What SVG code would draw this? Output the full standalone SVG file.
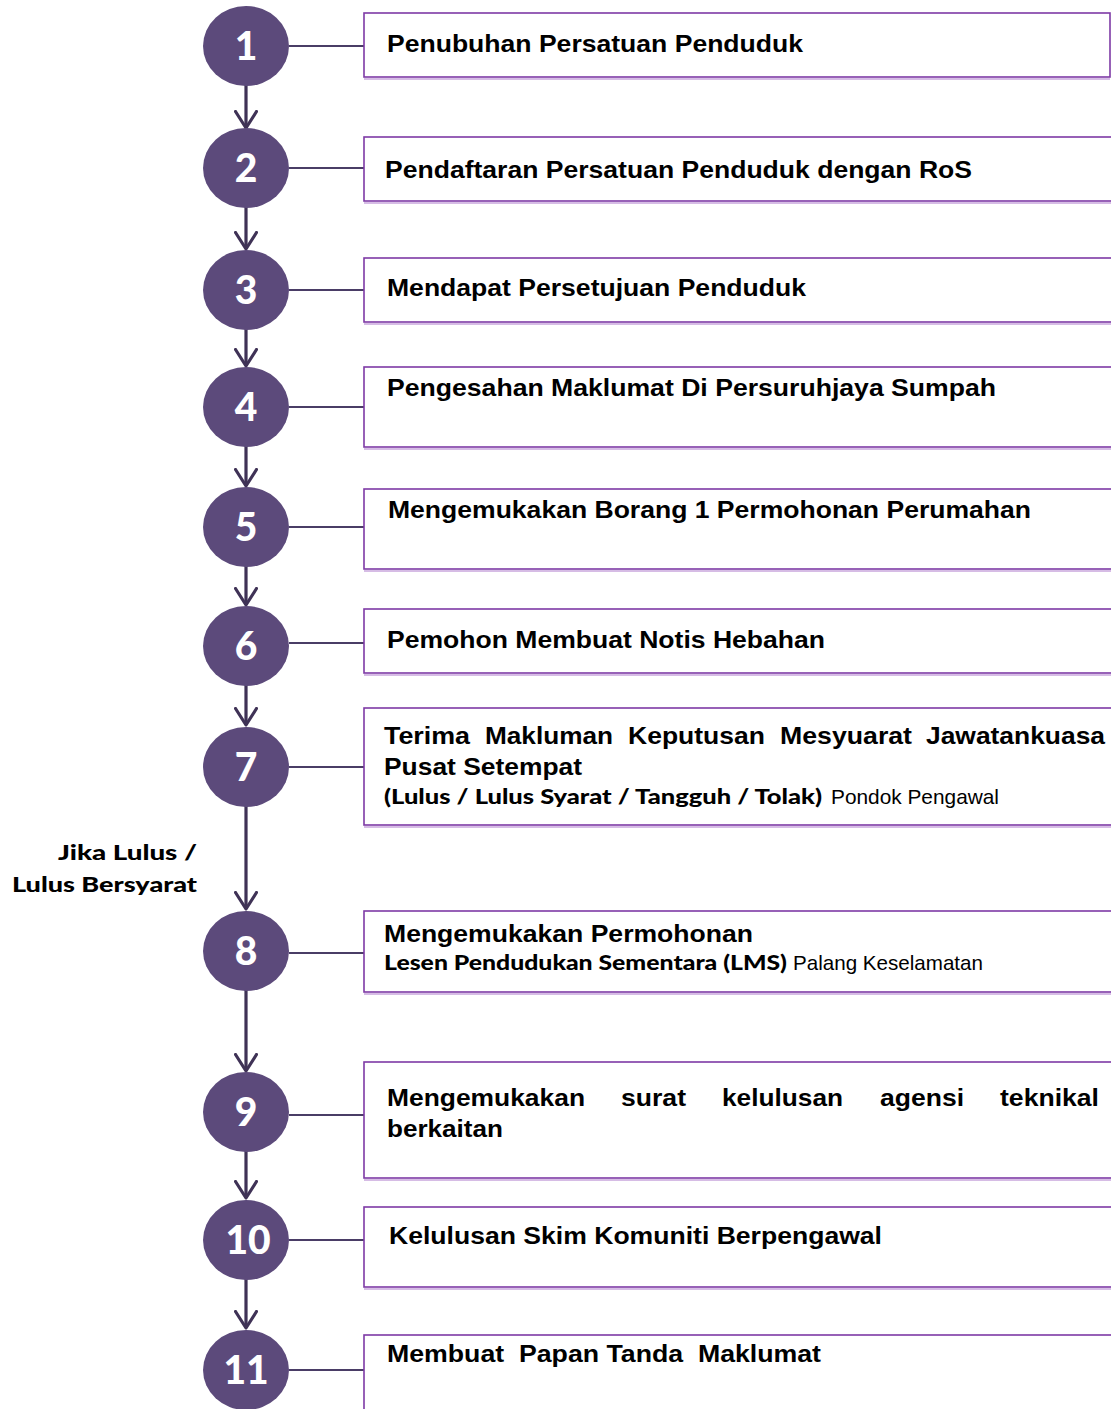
<svg xmlns="http://www.w3.org/2000/svg" width="1111" height="1409" viewBox="0 0 1111 1409">
<defs>
<marker id="ah" viewBox="0 0 20 24" refX="18" refY="12" markerWidth="20" markerHeight="24" markerUnits="userSpaceOnUse" orient="auto">
<path d="M1.5,1.5 L18,12 L1.5,22.5" fill="none" stroke="#3f3256" stroke-width="3.2" stroke-linecap="round" stroke-linejoin="round"/>
</marker>
</defs>
<style>
.c{fill:#5c4a7b}
.n{font-family:Lato,"Open Sans",sans-serif;font-weight:900;font-size:39px;fill:#fff;text-anchor:middle}
.b{fill:#fff;stroke:#7e3aa6;stroke-width:1.6}
.s{fill:none;stroke:#c8a6dc;stroke-width:1.5}
.t{font-family:"Liberation Sans",Arial,sans-serif;font-weight:700;font-size:24px;fill:#000}
.f{font-family:Lato,"Open Sans",sans-serif;font-weight:900;font-size:21px;fill:#000}
.w{font-family:"Liberation Sans",Arial,sans-serif;font-weight:400;font-size:21px;fill:#000}
.h{stroke:#4a3d66;stroke-width:2;fill:none}
.v{stroke:#3f3256;stroke-width:3.2;fill:none}
</style>
<rect width="1111" height="1409" fill="#fff"/>
<g id="connectors">
<line class="h" x1="289" y1="46" x2="364" y2="46"/>
<line class="h" x1="289" y1="168" x2="364" y2="168"/>
<line class="h" x1="289" y1="290" x2="364" y2="290"/>
<line class="h" x1="289" y1="407" x2="364" y2="407"/>
<line class="h" x1="289" y1="527" x2="364" y2="527"/>
<line class="h" x1="289" y1="643" x2="364" y2="643"/>
<line class="h" x1="289" y1="767" x2="364" y2="767"/>
<line class="h" x1="289" y1="953" x2="364" y2="953"/>
<line class="h" x1="289" y1="1115" x2="364" y2="1115"/>
<line class="h" x1="289" y1="1240" x2="364" y2="1240"/>
<line class="h" x1="289" y1="1370" x2="364" y2="1370"/>
<line class="v" x1="246" y1="85" x2="246" y2="128" marker-end="url(#ah)"/>
<line class="v" x1="246" y1="207" x2="246" y2="249" marker-end="url(#ah)"/>
<line class="v" x1="246" y1="329" x2="246" y2="366" marker-end="url(#ah)"/>
<line class="v" x1="246" y1="446" x2="246" y2="486" marker-end="url(#ah)"/>
<line class="v" x1="246" y1="566" x2="246" y2="605" marker-end="url(#ah)"/>
<line class="v" x1="246" y1="685" x2="246" y2="725" marker-end="url(#ah)"/>
<line class="v" x1="246" y1="806" x2="246" y2="909" marker-end="url(#ah)"/>
<line class="v" x1="246" y1="990" x2="246" y2="1071" marker-end="url(#ah)"/>
<line class="v" x1="246" y1="1151" x2="246" y2="1198" marker-end="url(#ah)"/>
<line class="v" x1="246" y1="1279" x2="246" y2="1328" marker-end="url(#ah)"/>
</g>
<g id="label-jika">
<text class="f" x="197" y="860" text-anchor="end" textLength="139" lengthAdjust="spacingAndGlyphs">Jika Lulus /</text>
<text class="f" x="197" y="892" text-anchor="end" textLength="185" lengthAdjust="spacingAndGlyphs">Lulus Bersyarat</text>
</g>
<g id="node1">
<ellipse class="c" cx="246" cy="46" rx="43" ry="40"/>
<text class="n" x="246" y="60">1</text>
<rect class="b" x="364" y="13" width="746" height="64"/>
<path class="s" d="M364,79 H1110"/>
<text class="t" x="387" y="52" textLength="416" lengthAdjust="spacingAndGlyphs">Penubuhan Persatuan Penduduk</text>
</g>
<g id="node2">
<ellipse class="c" cx="246" cy="168" rx="43" ry="40"/>
<text class="n" x="246" y="182">2</text>
<rect class="b" x="364" y="137" width="760" height="64"/>
<path class="s" d="M364,203 H1111"/>
<text class="t" x="385" y="178" textLength="587" lengthAdjust="spacingAndGlyphs">Pendaftaran Persatuan Penduduk dengan RoS</text>
</g>
<g id="node3">
<ellipse class="c" cx="246" cy="290" rx="43" ry="40"/>
<text class="n" x="246" y="304">3</text>
<rect class="b" x="364" y="258" width="760" height="64"/>
<path class="s" d="M364,324 H1111"/>
<text class="t" x="387" y="296" textLength="419" lengthAdjust="spacingAndGlyphs">Mendapat Persetujuan Penduduk</text>
</g>
<g id="node4">
<ellipse class="c" cx="246" cy="407" rx="43" ry="40"/>
<text class="n" x="246" y="421">4</text>
<rect class="b" x="364" y="367" width="760" height="80"/>
<path class="s" d="M364,449 H1111"/>
<text class="t" x="387" y="396" textLength="609" lengthAdjust="spacingAndGlyphs">Pengesahan Maklumat Di Persuruhjaya Sumpah</text>
</g>
<g id="node5">
<ellipse class="c" cx="246" cy="527" rx="43" ry="40"/>
<text class="n" x="246" y="541">5</text>
<rect class="b" x="364" y="489" width="760" height="80"/>
<path class="s" d="M364,571 H1111"/>
<text class="t" x="388" y="518" textLength="643" lengthAdjust="spacingAndGlyphs">Mengemukakan Borang 1 Permohonan Perumahan</text>
</g>
<g id="node6">
<ellipse class="c" cx="246" cy="646" rx="43" ry="40"/>
<text class="n" x="246" y="660">6</text>
<rect class="b" x="364" y="609" width="760" height="64"/>
<path class="s" d="M364,675 H1111"/>
<text class="t" x="387" y="648" textLength="438" lengthAdjust="spacingAndGlyphs">Pemohon Membuat Notis Hebahan</text>
</g>
<g id="node7">
<ellipse class="c" cx="246" cy="767" rx="43" ry="40"/>
<text class="n" x="246" y="781">7</text>
<rect class="b" x="364" y="708" width="760" height="117"/>
<path class="s" d="M364,827 H1111"/>
<text class="t" x="384" y="744" textLength="86" lengthAdjust="spacingAndGlyphs">Terima</text>
<text class="t" x="485" y="744" textLength="128" lengthAdjust="spacingAndGlyphs">Makluman</text>
<text class="t" x="628" y="744" textLength="137" lengthAdjust="spacingAndGlyphs">Keputusan</text>
<text class="t" x="780" y="744" textLength="132" lengthAdjust="spacingAndGlyphs">Mesyuarat</text>
<text class="t" x="926" y="744" textLength="179" lengthAdjust="spacingAndGlyphs">Jawatankuasa</text>
<text class="t" x="384" y="775" textLength="198" lengthAdjust="spacingAndGlyphs">Pusat Setempat</text>
<text class="f" x="384" y="804" textLength="438" lengthAdjust="spacingAndGlyphs">(Lulus / Lulus Syarat / Tangguh / Tolak)</text>
<text class="w" x="831" y="804" textLength="168" lengthAdjust="spacingAndGlyphs">Pondok Pengawal</text>
</g>
<g id="node8">
<ellipse class="c" cx="246" cy="951" rx="43" ry="40"/>
<text class="n" x="246" y="965">8</text>
<rect class="b" x="364" y="911" width="760" height="81"/>
<path class="s" d="M364,994 H1111"/>
<text class="t" x="384" y="942" textLength="369" lengthAdjust="spacingAndGlyphs">Mengemukakan Permohonan</text>
<text class="f" x="384" y="970" textLength="403" lengthAdjust="spacingAndGlyphs">Lesen Pendudukan Sementara (LMS)</text>
<text class="w" x="793" y="970" textLength="190" lengthAdjust="spacingAndGlyphs">Palang Keselamatan</text>
</g>
<g id="node9">
<ellipse class="c" cx="246" cy="1112" rx="43" ry="40"/>
<text class="n" x="246" y="1126">9</text>
<rect class="b" x="364" y="1062" width="760" height="116"/>
<path class="s" d="M364,1180 H1111"/>
<text class="t" x="387" y="1106" textLength="198" lengthAdjust="spacingAndGlyphs">Mengemukakan</text>
<text class="t" x="621" y="1106" textLength="65" lengthAdjust="spacingAndGlyphs">surat</text>
<text class="t" x="722" y="1106" textLength="121" lengthAdjust="spacingAndGlyphs">kelulusan</text>
<text class="t" x="880" y="1106" textLength="84" lengthAdjust="spacingAndGlyphs">agensi</text>
<text class="t" x="1000" y="1106" textLength="99" lengthAdjust="spacingAndGlyphs">teknikal</text>
<text class="t" x="387" y="1137" textLength="116" lengthAdjust="spacingAndGlyphs">berkaitan</text>
</g>
<g id="node10">
<ellipse class="c" cx="246" cy="1240" rx="43" ry="40"/>
<text class="n" x="248" y="1254">10</text>
<rect class="b" x="364" y="1207" width="760" height="80"/>
<path class="s" d="M364,1289 H1111"/>
<text class="t" x="389" y="1244" textLength="493" lengthAdjust="spacingAndGlyphs">Kelulusan Skim Komuniti Berpengawal</text>
</g>
<g id="node11">
<ellipse class="c" cx="246" cy="1370" rx="43" ry="40"/>
<text class="n" x="246" y="1384">11</text>
<rect class="b" x="364" y="1335" width="760" height="100"/>
<text class="t" x="387" y="1362" textLength="434" lengthAdjust="spacingAndGlyphs" xml:space="preserve">Membuat  Papan Tanda  Maklumat</text>
</g>
</svg>
